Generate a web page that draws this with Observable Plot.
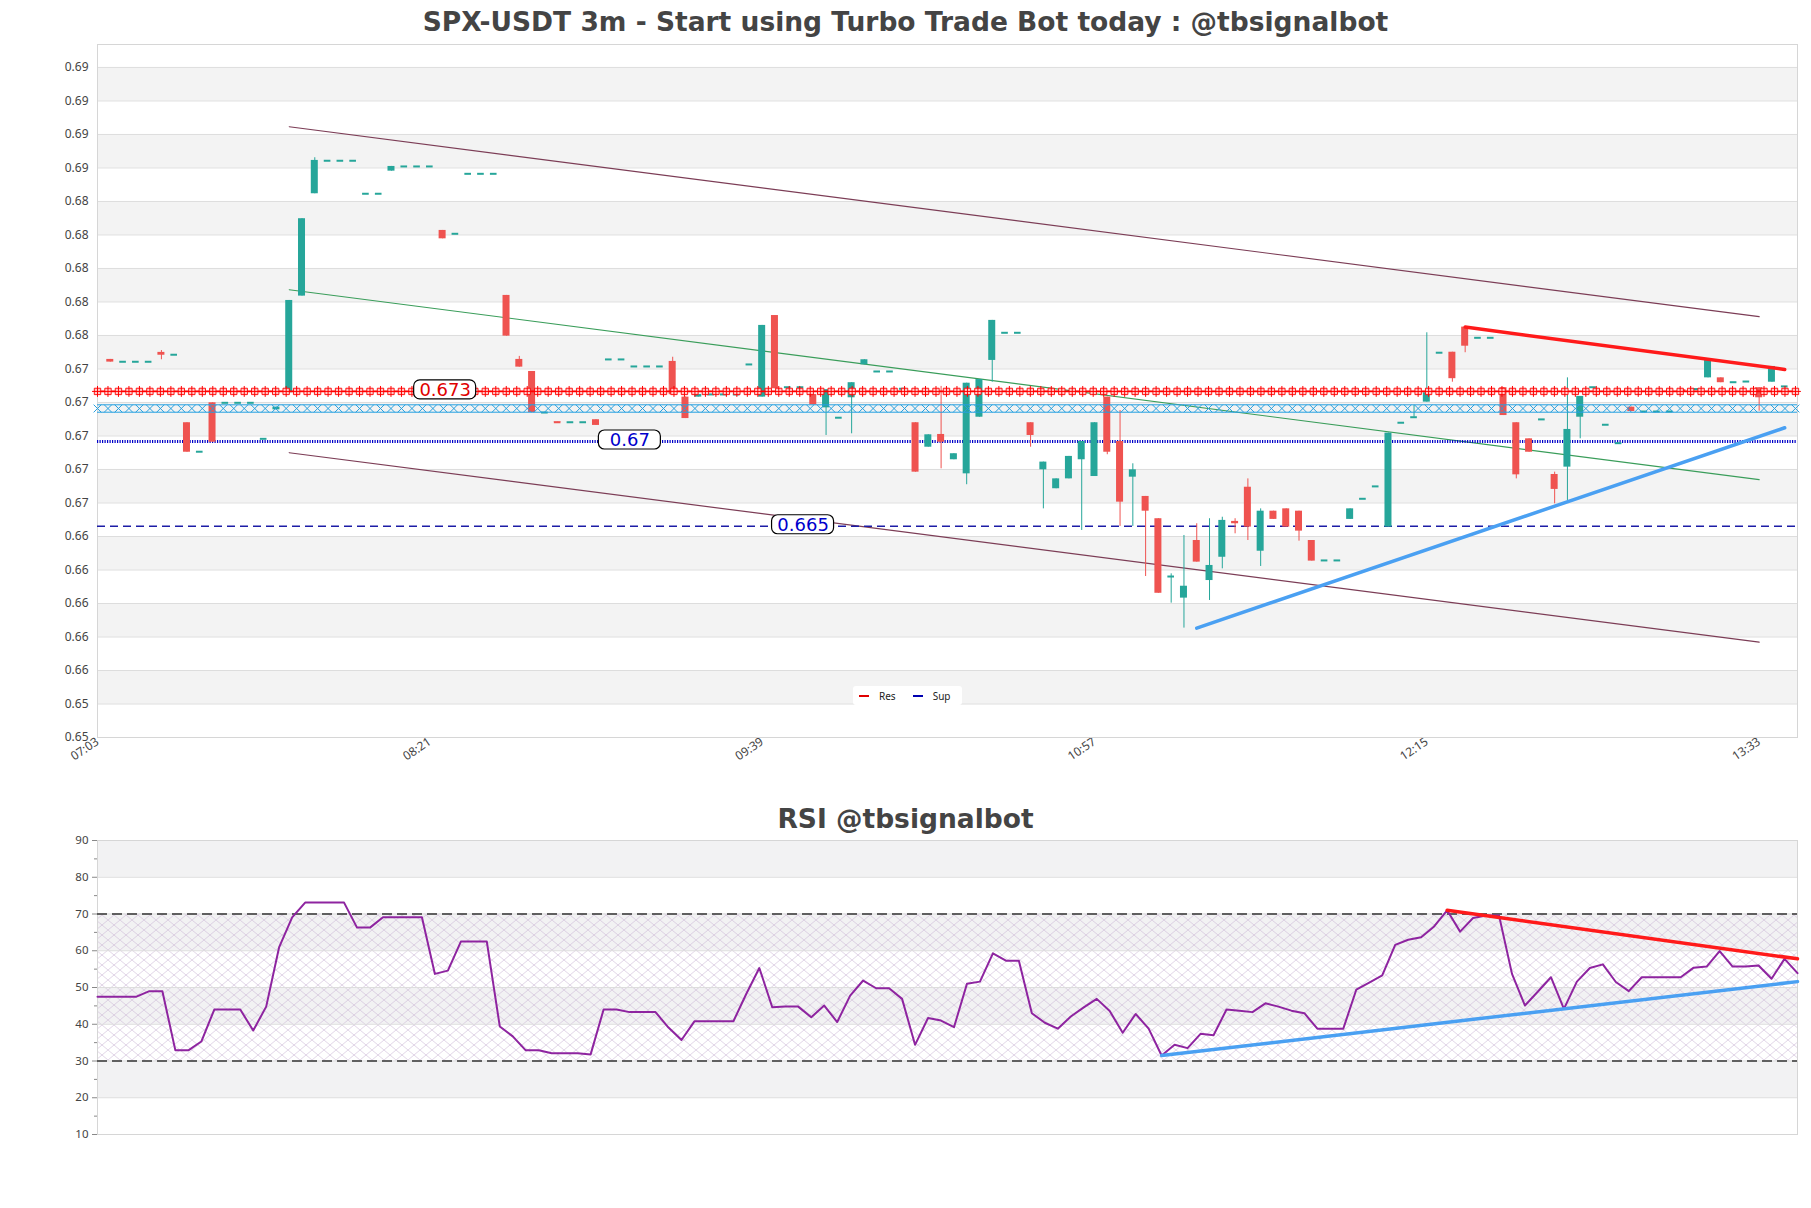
<!DOCTYPE html>
<html><head><meta charset="utf-8">
<script src="https://cdn.jsdelivr.net/npm/d3@7"></script>
<script src="https://cdn.jsdelivr.net/npm/@observablehq/plot@0.6"></script>
<style>
body{margin:0;background:#fff;}
#wrap{position:relative;width:1811px;height:1208px;overflow:hidden;font-family:"Noto Sans",sans-serif;}
.title{position:absolute;left:0;width:1811px;text-align:center;font-family:"DejaVu Sans",sans-serif;font-weight:bold;color:#444;font-size:26.5px;line-height:30px;white-space:nowrap;}
#main{position:absolute;left:0;top:34px;}
#rsi{position:absolute;left:0;top:830px;}
#legend{position:absolute;left:853px;top:686px;width:109px;height:19px;background:#fff;border-radius:3px;font-size:10px;color:#222;display:flex;align-items:center;}
#legend .sw{display:inline-block;width:10px;height:2px;}
</style></head>
<body><div id="wrap">
<div class="title" style="top:7px">SPX-USDT 3m - Start using Turbo Trade Bot today : @tbsignalbot</div>
<div id="main"></div>
<div id="legend"><span class="sw" style="background:#e00000;margin-left:6px"></span><span style="margin-left:10px">Res</span><span class="sw" style="background:#0000b0;margin-left:17px"></span><span style="margin-left:10px">Sup</span></div>
<div class="title" style="top:804px">RSI @tbsignalbot</div>
<div id="rsi"></div>
</div>
<script>
// ---------------- data ----------------
const opens = [
0.67507,0.67493,0.67493,0.67493,0.67549,0.67535,0.67129,0.66956,0.67248,0.67248,
0.67248,0.67248,0.67033,0.67206,0.67308,0.67885,0.68496,0.68693,0.68693,0.68693,
0.68496,0.68496,0.68631,0.68659,0.68659,0.68659,0.68277,0.68257,0.68615,0.68615,
0.68615,0.67889,0.67507,0.67435,0.67190,0.67134,0.67132,0.67132,0.67147,0.67507,
0.67507,0.67465,0.67465,0.67465,0.67495,0.67282,0.67282,0.67298,0.67298,0.67298,
0.67477,0.67282,0.67769,0.67341,0.67341,0.67298,0.67218,0.67159,0.67278,0.67475,
0.67435,0.67435,0.67332,0.67129,0.66983,0.67059,0.66908,0.66824,0.67162,0.67501,
0.67666,0.67666,0.67129,0.66848,0.66735,0.66794,0.66908,0.66808,0.67282,0.67017,
0.66804,0.66689,0.66556,0.66211,0.66082,0.66426,0.66187,0.66326,0.66540,0.66744,
0.66362,0.66601,0.66615,0.66601,0.66426,0.66307,0.66307,0.66552,0.66675,0.66749,
0.66506,0.67129,0.67162,0.67252,0.67547,0.67550,0.67700,0.67636,0.67636,0.67338,
0.67129,0.67033,0.67149,0.66820,0.66864,0.67162,0.67341,0.67117,0.67007,0.67222,
0.67196,0.67196,0.67196,0.67325,0.67330,0.67397,0.67397,0.67371,0.67375,0.67338,
0.67371,0.67346];
const closes = [
0.67491,0.67493,0.67493,0.67493,0.67532,0.67535,0.66953,0.66956,0.67013,0.67248,
0.67248,0.67248,0.67033,0.67222,0.67859,0.68347,0.68695,0.68693,0.68693,0.68693,
0.68496,0.68496,0.68659,0.68659,0.68659,0.68659,0.68227,0.68257,0.68615,0.68615,
0.68615,0.67646,0.67461,0.67190,0.67190,0.67132,0.67132,0.67132,0.67113,0.67507,
0.67507,0.67465,0.67465,0.67465,0.67296,0.67154,0.67298,0.67298,0.67298,0.67298,
0.67477,0.67710,0.67332,0.67341,0.67341,0.67236,0.67326,0.67159,0.67368,0.67505,
0.67435,0.67435,0.67332,0.66834,0.67057,0.67013,0.66944,0.67365,0.67387,0.67740,
0.67666,0.67666,0.67053,0.66894,0.66794,0.66928,0.67017,0.67129,0.66953,0.66655,
0.66848,0.66601,0.66111,0.66211,0.66153,0.66297,0.66277,0.66546,0.66526,0.66506,
0.66601,0.66552,0.66506,0.66482,0.66303,0.66307,0.66307,0.66615,0.66675,0.66749,
0.67067,0.67129,0.67162,0.67308,0.67547,0.67392,0.67586,0.67636,0.67636,0.67172,
0.66818,0.66953,0.67149,0.66731,0.67089,0.67286,0.67341,0.67117,0.67007,0.67196,
0.67196,0.67196,0.67196,0.67322,0.67330,0.67505,0.67368,0.67371,0.67375,0.67278,
0.67465,0.67346];
// null = no upper / lower wick
const highs = [
null,null,null,null,0.67560,null,null,null,null,null,
null,null,null,null,null,null,0.68711,null,null,null,
null,null,null,null,null,null,null,null,null,null,
null,null,0.67525,null,null,null,null,null,null,null,
null,null,null,null,0.67520,null,null,null,null,null,
null,null,null,null,null,null,null,null,null,null,
null,null,null,null,null,0.67346,null,null,null,null,
null,null,null,null,null,null,null,null,null,0.67202,
0.66884,null,null,0.66227,0.66456,0.66526,0.66556,0.66565,0.66556,0.66794,
0.66615,null,null,null,null,null,null,null,null,null,
null,null,0.67232,0.67666,null,null,null,null,null,null,
null,null,null,0.66834,0.67397,null,null,null,null,null,
null,null,null,null,null,null,null,null,null,null,
null,null];
const lows = [
null,null,null,null,0.67505,null,null,null,null,null,
null,null,null,null,null,null,null,null,null,null,
null,null,null,null,null,null,null,null,null,null,
null,null,null,null,null,null,null,null,null,null,
null,null,null,null,null,null,null,null,null,null,
null,null,null,null,null,null,0.67053,null,0.67063,null,
null,null,null,null,null,0.66854,null,0.66759,null,0.67371,
null,null,0.66983,0.66615,null,null,0.66486,null,0.66938,0.66510,
0.66510,0.66211,null,0.66052,0.65903,null,0.66068,0.66257,0.66466,0.66426,
0.66271,null,null,0.66422,null,null,null,null,null,null,
null,null,null,null,null,0.67371,0.67547,null,null,null,
0.66794,null,null,0.66645,0.66665,0.67033,null,null,null,null,
null,null,null,null,null,null,null,null,null,0.67198,
null,null];
const rsiValues = [
47.5,47.5,47.5,47.5,49.0,49.0,32.9,32.9,35.3,44.0,
44.0,44.0,38.3,44.8,61.0,69.1,73.1,73.1,73.1,73.1,
66.3,66.3,69.1,69.1,69.1,69.1,53.7,54.6,62.5,62.5,
62.5,39.4,36.7,32.9,32.9,32.1,32.1,32.1,31.8,44.0,
44.0,43.3,43.3,43.3,39.1,35.7,40.8,40.8,40.8,40.8,
48.3,55.3,44.6,44.8,44.8,41.9,45.1,40.6,47.8,51.9,
49.8,49.8,46.9,34.4,41.7,41.0,39.2,51.0,51.6,59.3,
57.3,57.3,43.0,40.4,38.8,42.1,44.6,46.9,43.6,37.7,
42.8,38.8,31.5,34.4,33.5,37.4,37.0,44.0,43.7,43.3,
45.7,44.8,43.7,43.0,38.8,38.8,38.8,49.4,51.3,53.3,
61.6,63.0,63.7,66.6,71.0,65.2,68.9,69.6,69.6,53.7,
45.1,48.9,52.8,44.2,51.6,55.3,56.3,51.5,49.0,52.8,
52.8,52.8,52.8,55.4,55.7,59.9,55.7,55.7,56.0,52.4,
57.8,53.9];

// axis ticks
const priceTicks = [0.6525,0.6545,0.6565,0.6585,0.6605,0.6625,0.6645,0.6665,0.6685,0.6705,
  0.6725,0.6745,0.6765,0.6785,0.6805,0.6825,0.6845,0.6865,0.6885,0.6905,0.6925];
const timeTickPos = [-1, 25, 51, 77, 103, 129];
const timeTickLabels = ["07:03","08:21","09:39","10:57","12:15","13:33"];
const rsiTicks = [10,20,30,40,50,60,70,80,90];
const rsiMinorTicks = [15,25,35,45,55,65,75,85];

// horizontal levels
const resLevel = 0.67316;
const zoneLevel = 0.67214;
const supLevel = 0.67017;
const sup2Level = 0.66511;
const levelLabels = ["0.673", "0.67", "0.665"];
const levelLabelValues = [resLevel, supLevel, sup2Level];
const levelLabelAt = [26.2, 40.65, 54.2];
const levelLabelColors = ["#e00000", "#0000cc", "#0000cc"];

// channel & trend lines  [k1, price1, k2, price2]
const channelUpper = [14, 0.68896, 129, 0.67762];
const channelMid   = [14, 0.67923, 129, 0.66789];
const channelLower = [14, 0.66950, 129, 0.65819];
const priceResTrend = [106, 0.67700, 131, 0.67447];
const priceSupTrend = [85, 0.65903, 131, 0.67099];
const rsiResTrend = [104, 71.0, 131, 57.8];
const rsiSupTrend = [82, 31.5, 131, 51.6];

// ---------------- build ----------------
const GREEN = "#26a69a", RED = "#ef5350";
const candles = opens.map((o, k) => {
  const c = closes[k];
  return {k, o, c,
    h: highs[k] ?? Math.max(o, c),
    l: lows[k] ?? Math.min(o, c),
    col: c >= o ? GREEN : RED};
});
const seg = a => [{k: a[0], v: a[1]}, {k: a[2], v: a[3]}];
const markerKs = d3.range(-1, 132.01, 0.82);

const band = [];
for (let j = 1; j < priceTicks.length - 1; j += 2) band.push({y1: priceTicks[j], y2: priceTicks[j + 1]});
const labels = levelLabels.map((t, i) => ({t, v: levelLabelValues[i], k: levelLabelAt[i], col: levelLabelColors[i]}));

const main = Plot.plot({
  width: 1811, height: 748,
  marginLeft: 97, marginRight: 14, marginTop: 10, marginBottom: 45,
  style: {fontFamily: "Noto Sans, sans-serif", fontSize: "12px", color: "#444", background: "transparent"},
  x: {domain: [-1, 132], ticks: timeTickPos, tickFormat: d => timeTickLabels[timeTickPos.indexOf(d)], tickRotate: -34, tickSize: 0, tickPadding: 3, label: null},
  y: {domain: [0.6525, 0.69387], ticks: priceTicks, tickFormat: d3.format(".2f"), tickSize: 0, tickPadding: 9, label: null},
  marks: [
    Plot.rect(band, {y1: "y1", y2: "y2", fill: "#f3f3f3"}),
    Plot.ruleY(priceTicks, {stroke: "#dddddd", strokeWidth: 1}),
    Plot.frame({stroke: "#d6d6d6"}),
    // channel
    Plot.line(seg(channelUpper), {x: "k", y: "v", stroke: "#7c3d56", strokeWidth: 1.2}),
    Plot.line(seg(channelLower), {x: "k", y: "v", stroke: "#7c3d56", strokeWidth: 1.2}),
    Plot.line(seg(channelMid), {x: "k", y: "v", stroke: "#3a9d5a", strokeWidth: 1.2}),
    // support dashed / dotted
    Plot.ruleY([sup2Level], {stroke: "#1c1ca6", strokeWidth: 1.6, strokeDasharray: "8,5"}),
    Plot.ruleY([supLevel], {stroke: "#0000c8", strokeWidth: 3, strokeDasharray: "1.2,1.3"}),
    // candles
    Plot.ruleX(candles, {x: "k", y1: "l", y2: "h", stroke: "col", strokeWidth: 1}),
    Plot.rect(candles.filter(d => d.o !== d.c), {x1: d => d.k, x2: d => d.k, y1: "o", y2: "c", fill: "col", insetLeft: -3.5, insetRight: -3.5}),
    Plot.ruleY(candles.filter(d => Math.abs(d.o - d.c) < 0.00005), {y: "c", x1: d => d.k - 0.26, x2: d => d.k + 0.26, stroke: "col", strokeWidth: 2}),
    // zone line (cyan x)
    Plot.ruleY([zoneLevel], {stroke: "#25a0e0", strokeWidth: 1, dy: -3.7}),
    Plot.ruleY([zoneLevel], {stroke: "#25a0e0", strokeWidth: 1, dy: 3.7}),
    Plot.dot(markerKs, {x: d => d, y: () => zoneLevel, symbol: "times", r: 3.6, stroke: "#25a0e0", strokeWidth: 1}),
    // resistance line (red markers)
    Plot.ruleY([resLevel], {stroke: "#ff0000", strokeWidth: 1.6}),
    Plot.dot(markerKs, {x: d => d, y: () => resLevel, symbol: "square", r: 3.6, stroke: "#ff0000", fill: "#ffc8c8", strokeWidth: 0.9}),
    Plot.dot(markerKs, {x: d => d, y: () => resLevel, symbol: "plus", r: 3.6, stroke: "#ff0000", strokeWidth: 1}),
    // trend lines
    Plot.line(seg(priceResTrend), {x: "k", y: "v", stroke: "#ff1a1a", strokeWidth: 3.5}),
    Plot.line(seg(priceSupTrend), {x: "k", y: "v", stroke: "#4aa0f2", strokeWidth: 3.5}),
    // level labels
    Plot.rect(labels, {x1: "k", x2: "k", y1: "v", y2: "v", fill: "#fff", stroke: "#000", strokeWidth: 1.2, rx: 6, insetLeft: -31, insetRight: -31, insetTop: -10, insetBottom: -9, dy: -1}),
    Plot.text(labels, {x: "k", y: "v", text: "t", fill: "col", fontSize: 18, fontFamily: "DejaVu Sans, sans-serif", dy: -1})
  ]
});
document.getElementById("main").appendChild(main);

const rsiData = rsiValues.map((v, k) => ({k, v}));
const rsiBands = [{y1: 80, y2: 90}, {y1: 60, y2: 70}, {y1: 40, y2: 50}, {y1: 20, y2: 30}];
const rsiMarks = [
  Plot.rect(rsiBands, {y1: "y1", y2: "y2", fill: "#f2f2f3"}),
  Plot.rect([{y1: 30, y2: 70}], {y1: "y1", y2: "y2", fill: "url(#rsiHatch)"}),
  Plot.ruleY(rsiTicks, {stroke: "#dddddd"}),
  Plot.frame({stroke: "#d6d6d6"}),
  Plot.ruleY([30, 70], {stroke: "#333", strokeWidth: 1.3, strokeDasharray: "10,5"}),
  Plot.line(rsiData, {x: "k", y: "v", stroke: "#8e24a0", strokeWidth: 2}),
  Plot.line(seg(rsiResTrend), {x: "k", y: "v", stroke: "#ff1a1a", strokeWidth: 3.5}),
  Plot.line(seg(rsiSupTrend), {x: "k", y: "v", stroke: "#4aa0f2", strokeWidth: 3.5})
];
if (Plot.axisY) {
  rsiMarks.push(Plot.axisY(rsiTicks, {tickSize: 5, tickPadding: 4, stroke: "#888", fill: "#444"}));
  rsiMarks.push(Plot.axisY(rsiMinorTicks, {tickSize: 3, tickFormat: () => "", stroke: "#888"}));
}
const rsi = Plot.plot({
  width: 1811, height: 324,
  marginLeft: 97, marginRight: 14, marginTop: 10, marginBottom: 20,
  style: {fontFamily: "Noto Sans, sans-serif", fontSize: "11.5px", color: "#444", background: "transparent"},
  x: {domain: [0, 131], axis: null},
  y: {domain: [10, 90], ticks: rsiTicks, tickSize: 5, tickPadding: 4, label: null},
  marks: rsiMarks
});
d3.select(rsi).insert("defs", ":first-child").html(
  '<pattern id="rsiHatch" width="12" height="10" patternUnits="userSpaceOnUse">' +
  '<path d="M0,0L12,10M12,0L0,10" stroke="#c9b4d4" stroke-width="0.7" fill="none" opacity="0.8"/></pattern>');
document.getElementById("rsi").appendChild(rsi);
</script>
</body></html>
